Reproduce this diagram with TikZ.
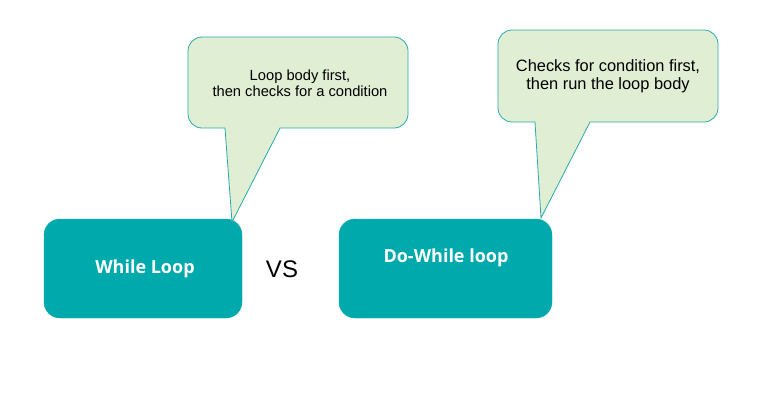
\documentclass[tikz,border=0pt]{standalone}
\usepackage{fontspec}
\setmainfont{Liberation Sans}
\newfontfamily\boxfont{Open Sans}
\usetikzlibrary{positioning}

\definecolor{loopteal}{RGB}{0,169,172}
\definecolor{bubblefill}{RGB}{224,238,212}
\definecolor{bubbleline}{RGB}{40,170,170}

\begin{document}
\begin{tikzpicture}[
        x=1pt, y=-1pt,
        loopbox/.style={rectangle, rounded corners=16pt, fill=loopteal, draw=loopteal, minimum width=198pt, minimum height=99pt, inner sep=0pt},
        looplabel/.style={font=\boxfont\bfseries\fontsize{18}{22}\selectfont, text=white},
        bubble/.style={fill=bubblefill, draw=bubbleline, line width=0.8pt, line join=miter},
        bubbletext/.style={align=center},
        ]
    \useasboundingbox (0,0) rectangle (769,418);

    % Boxes
    \node[loopbox] (whilebox) at (143,268.5) {};
    \node[looplabel] (whilelabel) at (145,269) {While Loop};
    \node[loopbox, minimum width=213pt] (dowhilebox) at (445.5,268.5) {};
    \node[looplabel] (dowhilelabel) at (446,258) {Do-While loop};
    \node[font=\fontsize{24}{28}\selectfont] (vs) at (282,269) {VS};

    % Callouts
    \coordinate (tipA) at (232,222);
    \coordinate (tipB) at (541,218);
    \draw[bubble] (300,128) [rounded corners=14pt] -- (408,128) -- (408,37) -- (188,37) -- (188,128) [sharp corners] -- (225,128) -- (tipA) -- (280,128) -- cycle;
    \draw[bubble] (610,122) [rounded corners=14pt] -- (718,122) -- (718,30) -- (498,30) -- (498,122) [sharp corners] -- (535,122) -- (tipB) -- (590,122) -- cycle;
    \node[bubbletext, font=\fontsize{14.7}{16}\selectfont] (whilenote) at (300,83) {Loop body first,\\then checks for a condition};
    \node[bubbletext, font=\fontsize{16.4}{18}\selectfont] (dowhilenote) at (608,76) {Checks for condition first,\\then run the loop body};

\end{tikzpicture}
\end{document}
